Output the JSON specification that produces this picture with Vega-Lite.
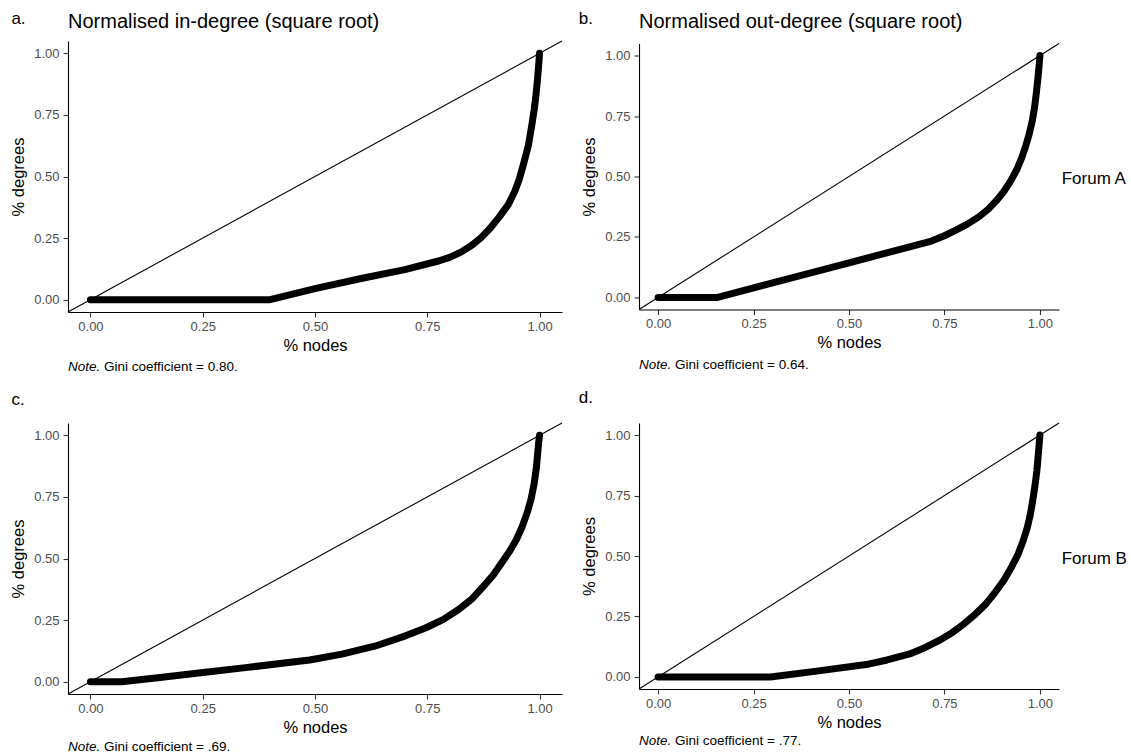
{
  "$schema": "https://vega.github.io/schema/vega-lite/v6.json",
  "padding": {"left": 10, "top": 10, "right": 4, "bottom": 0},
  "background": "white",
  "config": {
    "view": {"stroke": null},
    "font": "Liberation Sans",
    "axis": {
      "grid": false,
      "domainColor": "#000000",
      "domainWidth": 1.1,
      "tickColor": "#333333",
      "tickWidth": 1.1,
      "tickSize": 5,
      "labelFont": "Liberation Sans",
      "labelFontSize": 13,
      "labelColor": "#4d4d4d",
      "labelPadding": 4,
      "titleFont": "Liberation Sans",
      "titleFontSize": 16.5,
      "titleFontWeight": "normal",
      "titleColor": "#000000"
    },
    "axisX": {"labelPadding": 3, "titlePadding": 4},
    "axisY": {"titlePadding": 7},
    "text": {"font": "Liberation Sans", "color": "#000000"}
  },
  "datasets": {
    "diag": [{"x": -0.05, "y": -0.05}, {"x": 1.05, "y": 1.05}],
    "curves": [
      {"panel": "a", "x": 0, "y": 0},
      {"panel": "a", "x": 0.40, "y": 0},
      {"panel": "a", "x": 0.50, "y": 0.045},
      {"panel": "a", "x": 0.60, "y": 0.085},
      {"panel": "a", "x": 0.70, "y": 0.122},
      {"panel": "a", "x": 0.775, "y": 0.157},
      {"panel": "a", "x": 0.80, "y": 0.172},
      {"panel": "a", "x": 0.825, "y": 0.193},
      {"panel": "a", "x": 0.85, "y": 0.222},
      {"panel": "a", "x": 0.87, "y": 0.252},
      {"panel": "a", "x": 0.89, "y": 0.29},
      {"panel": "a", "x": 0.91, "y": 0.335},
      {"panel": "a", "x": 0.93, "y": 0.385},
      {"panel": "a", "x": 0.945, "y": 0.44},
      {"panel": "a", "x": 0.955, "y": 0.49},
      {"panel": "a", "x": 0.965, "y": 0.555},
      {"panel": "a", "x": 0.975, "y": 0.625},
      {"panel": "a", "x": 0.982, "y": 0.70},
      {"panel": "a", "x": 0.988, "y": 0.77},
      {"panel": "a", "x": 0.992, "y": 0.83},
      {"panel": "a", "x": 0.995, "y": 0.885},
      {"panel": "a", "x": 0.998, "y": 0.95},
      {"panel": "a", "x": 1, "y": 1},
      {"panel": "b", "x": 0, "y": 0},
      {"panel": "b", "x": 0.156, "y": 0},
      {"panel": "b", "x": 0.30, "y": 0.06},
      {"panel": "b", "x": 0.50, "y": 0.143},
      {"panel": "b", "x": 0.716, "y": 0.233},
      {"panel": "b", "x": 0.75, "y": 0.255},
      {"panel": "b", "x": 0.78, "y": 0.278},
      {"panel": "b", "x": 0.81, "y": 0.303},
      {"panel": "b", "x": 0.84, "y": 0.333},
      {"panel": "b", "x": 0.865, "y": 0.365},
      {"panel": "b", "x": 0.886, "y": 0.40},
      {"panel": "b", "x": 0.905, "y": 0.437},
      {"panel": "b", "x": 0.924, "y": 0.483},
      {"panel": "b", "x": 0.94, "y": 0.53},
      {"panel": "b", "x": 0.953, "y": 0.58},
      {"panel": "b", "x": 0.963, "y": 0.627},
      {"panel": "b", "x": 0.972, "y": 0.676},
      {"panel": "b", "x": 0.98, "y": 0.73},
      {"panel": "b", "x": 0.986, "y": 0.786},
      {"panel": "b", "x": 0.991, "y": 0.85},
      {"panel": "b", "x": 0.995, "y": 0.91},
      {"panel": "b", "x": 0.998, "y": 0.96},
      {"panel": "b", "x": 1, "y": 1},
      {"panel": "c", "x": 0, "y": 0},
      {"panel": "c", "x": 0.069, "y": 0},
      {"panel": "c", "x": 0.15, "y": 0.016},
      {"panel": "c", "x": 0.246, "y": 0.036},
      {"panel": "c", "x": 0.35, "y": 0.058},
      {"panel": "c", "x": 0.488, "y": 0.088},
      {"panel": "c", "x": 0.56, "y": 0.112},
      {"panel": "c", "x": 0.633, "y": 0.144},
      {"panel": "c", "x": 0.70, "y": 0.185},
      {"panel": "c", "x": 0.746, "y": 0.218},
      {"panel": "c", "x": 0.785, "y": 0.252},
      {"panel": "c", "x": 0.819, "y": 0.292},
      {"panel": "c", "x": 0.85, "y": 0.337},
      {"panel": "c", "x": 0.875, "y": 0.387},
      {"panel": "c", "x": 0.897, "y": 0.433},
      {"panel": "c", "x": 0.915, "y": 0.481},
      {"panel": "c", "x": 0.933, "y": 0.528},
      {"panel": "c", "x": 0.948, "y": 0.575},
      {"panel": "c", "x": 0.961, "y": 0.628},
      {"panel": "c", "x": 0.972, "y": 0.683},
      {"panel": "c", "x": 0.981, "y": 0.74},
      {"panel": "c", "x": 0.988, "y": 0.804},
      {"panel": "c", "x": 0.993, "y": 0.87},
      {"panel": "c", "x": 0.996, "y": 0.93},
      {"panel": "c", "x": 0.998, "y": 0.97},
      {"panel": "c", "x": 1, "y": 1},
      {"panel": "d", "x": 0, "y": 0},
      {"panel": "d", "x": 0.294, "y": 0},
      {"panel": "d", "x": 0.42, "y": 0.025},
      {"panel": "d", "x": 0.545, "y": 0.051},
      {"panel": "d", "x": 0.60, "y": 0.07},
      {"panel": "d", "x": 0.659, "y": 0.095},
      {"panel": "d", "x": 0.70, "y": 0.122},
      {"panel": "d", "x": 0.735, "y": 0.15},
      {"panel": "d", "x": 0.77, "y": 0.183},
      {"panel": "d", "x": 0.801, "y": 0.219},
      {"panel": "d", "x": 0.83, "y": 0.258},
      {"panel": "d", "x": 0.858, "y": 0.301},
      {"panel": "d", "x": 0.882, "y": 0.348},
      {"panel": "d", "x": 0.905, "y": 0.398},
      {"panel": "d", "x": 0.925, "y": 0.452},
      {"panel": "d", "x": 0.943, "y": 0.508},
      {"panel": "d", "x": 0.956, "y": 0.562},
      {"panel": "d", "x": 0.967, "y": 0.618},
      {"panel": "d", "x": 0.975, "y": 0.672},
      {"panel": "d", "x": 0.981, "y": 0.728},
      {"panel": "d", "x": 0.987, "y": 0.79},
      {"panel": "d", "x": 0.992, "y": 0.851},
      {"panel": "d", "x": 0.995, "y": 0.905},
      {"panel": "d", "x": 0.998, "y": 0.961},
      {"panel": "d", "x": 1, "y": 1}
    ]
  },
  "columns": 2,
  "spacing": {"row": 111, "column": 77},
  "bounds": "flush",
  "align": "each",
  "center": true,
  "concat": [
    {
      "width": 494,
      "height": 271,
      "layer": [
        {
          "data": {"name": "diag"},
          "mark": {"type": "line", "color": "#000000", "strokeWidth": 1.1},
          "encoding": {
            "x": {"field": "x", "type": "quantitative", "title": "% nodes", "scale": {"domain": [-0.05, 1.05], "nice": false, "zero": false}, "axis": {"values": [0, 0.25, 0.5, 0.75, 1], "format": ".2f", "labelFlush": false}},
            "y": {"field": "y", "type": "quantitative", "title": "% degrees", "scale": {"domain": [-0.05, 1.05], "nice": false, "zero": false}, "axis": {"values": [0, 0.25, 0.5, 0.75, 1], "format": ".2f", "labelFlush": false}}
          }
        },
        {
          "data": {"name": "curves"},
          "transform": [{"filter": "datum.panel === 'a'"}],
          "mark": {"type": "line", "color": "#000000", "strokeWidth": 7, "strokeCap": "round", "strokeJoin": "round", "interpolate": "linear"},
          "encoding": {
            "x": {"field": "x", "type": "quantitative"},
            "y": {"field": "y", "type": "quantitative"}
          }
        },
        {
          "data": {"values": [{"t": "a."}]},
          "mark": {"type": "text", "align": "left", "baseline": "alphabetic", "fontSize": 17},
          "encoding": {"text": {"field": "t"}, "x": {"datum": -0.176, "type": "quantitative"}, "y": {"datum": 1.119, "type": "quantitative"}}
        },
        {
          "data": {"values": [{"t": "Normalised in-degree (square root)"}]},
          "mark": {"type": "text", "align": "left", "baseline": "alphabetic", "fontSize": 20},
          "encoding": {"text": {"field": "t"}, "x": {"datum": -0.05, "type": "quantitative"}, "y": {"datum": 1.103, "type": "quantitative"}}
        },
        {
          "data": {"values": [{"t": "Note."}]},
          "mark": {"type": "text", "align": "left", "baseline": "alphabetic", "fontSize": 13.5, "fontStyle": "italic"},
          "encoding": {"text": {"field": "t"}, "x": {"datum": -0.05, "type": "quantitative"}, "y": {"datum": -0.289, "type": "quantitative"}}
        },
        {
          "data": {"values": [{"t": "Gini coefficient = 0.80."}]},
          "mark": {"type": "text", "align": "left", "baseline": "alphabetic", "fontSize": 13.5, "dx": 36},
          "encoding": {"text": {"field": "t"}, "x": {"datum": -0.05, "type": "quantitative"}, "y": {"datum": -0.289, "type": "quantitative"}}
        }
      ]
    },
    {
      "width": 420,
      "height": 266,
      "layer": [
        {
          "data": {"name": "diag"},
          "mark": {"type": "line", "color": "#000000", "strokeWidth": 1.1},
          "encoding": {
            "x": {"field": "x", "type": "quantitative", "title": "% nodes", "scale": {"domain": [-0.05, 1.05], "nice": false, "zero": false}, "axis": {"values": [0, 0.25, 0.5, 0.75, 1], "format": ".2f", "labelFlush": false}},
            "y": {"field": "y", "type": "quantitative", "title": "% degrees", "scale": {"domain": [-0.05, 1.05], "nice": false, "zero": false}, "axis": {"values": [0, 0.25, 0.5, 0.75, 1], "format": ".2f", "labelFlush": false}}
          }
        },
        {
          "data": {"name": "curves"},
          "transform": [{"filter": "datum.panel === 'b'"}],
          "mark": {"type": "line", "color": "#000000", "strokeWidth": 7, "strokeCap": "round", "strokeJoin": "round", "interpolate": "linear"},
          "encoding": {
            "x": {"field": "x", "type": "quantitative"},
            "y": {"field": "y", "type": "quantitative"}
          }
        },
        {
          "data": {"values": [{"t": "b."}]},
          "mark": {"type": "text", "align": "left", "baseline": "alphabetic", "fontSize": 17},
          "encoding": {"text": {"field": "t"}, "x": {"datum": -0.208, "type": "quantitative"}, "y": {"datum": 1.13, "type": "quantitative"}}
        },
        {
          "data": {"values": [{"t": "Normalised out-degree (square root)"}]},
          "mark": {"type": "text", "align": "left", "baseline": "alphabetic", "fontSize": 20},
          "encoding": {"text": {"field": "t"}, "x": {"datum": -0.05, "type": "quantitative"}, "y": {"datum": 1.113, "type": "quantitative"}}
        },
        {
          "data": {"values": [{"t": "Note."}]},
          "mark": {"type": "text", "align": "left", "baseline": "alphabetic", "fontSize": 13.5, "fontStyle": "italic"},
          "encoding": {"text": {"field": "t"}, "x": {"datum": -0.05, "type": "quantitative"}, "y": {"datum": -0.294, "type": "quantitative"}}
        },
        {
          "data": {"values": [{"t": "Gini coefficient = 0.64."}]},
          "mark": {"type": "text", "align": "left", "baseline": "alphabetic", "fontSize": 13.5, "dx": 36},
          "encoding": {"text": {"field": "t"}, "x": {"datum": -0.05, "type": "quantitative"}, "y": {"datum": -0.294, "type": "quantitative"}}
        },
        {
          "data": {"values": [{"t": "Forum A"}]},
          "mark": {"type": "text", "align": "left", "baseline": "alphabetic", "fontSize": 17},
          "encoding": {"text": {"field": "t"}, "x": {"datum": 1.057, "type": "quantitative"}, "y": {"datum": 0.471, "type": "quantitative"}}
        }
      ]
    },
    {
      "width": 494,
      "height": 271,
      "layer": [
        {
          "data": {"name": "diag"},
          "mark": {"type": "line", "color": "#000000", "strokeWidth": 1.1},
          "encoding": {
            "x": {"field": "x", "type": "quantitative", "title": "% nodes", "scale": {"domain": [-0.05, 1.05], "nice": false, "zero": false}, "axis": {"values": [0, 0.25, 0.5, 0.75, 1], "format": ".2f", "labelFlush": false}},
            "y": {"field": "y", "type": "quantitative", "title": "% degrees", "scale": {"domain": [-0.05, 1.05], "nice": false, "zero": false}, "axis": {"values": [0, 0.25, 0.5, 0.75, 1], "format": ".2f", "labelFlush": false}}
          }
        },
        {
          "data": {"name": "curves"},
          "transform": [{"filter": "datum.panel === 'c'"}],
          "mark": {"type": "line", "color": "#000000", "strokeWidth": 7, "strokeCap": "round", "strokeJoin": "round", "interpolate": "linear"},
          "encoding": {
            "x": {"field": "x", "type": "quantitative"},
            "y": {"field": "y", "type": "quantitative"}
          }
        },
        {
          "data": {"values": [{"t": "c."}]},
          "mark": {"type": "text", "align": "left", "baseline": "alphabetic", "fontSize": 17},
          "encoding": {"text": {"field": "t"}, "x": {"datum": -0.176, "type": "quantitative"}, "y": {"datum": 1.124, "type": "quantitative"}}
        },
        {
          "data": {"values": [{"t": "Note."}]},
          "mark": {"type": "text", "align": "left", "baseline": "alphabetic", "fontSize": 13.5, "fontStyle": "italic"},
          "encoding": {"text": {"field": "t"}, "x": {"datum": -0.05, "type": "quantitative"}, "y": {"datum": -0.28, "type": "quantitative"}}
        },
        {
          "data": {"values": [{"t": "Gini coefficient = .69."}]},
          "mark": {"type": "text", "align": "left", "baseline": "alphabetic", "fontSize": 13.5, "dx": 36},
          "encoding": {"text": {"field": "t"}, "x": {"datum": -0.05, "type": "quantitative"}, "y": {"datum": -0.28, "type": "quantitative"}}
        }
      ]
    },
    {
      "width": 420,
      "height": 266,
      "layer": [
        {
          "data": {"name": "diag"},
          "mark": {"type": "line", "color": "#000000", "strokeWidth": 1.1},
          "encoding": {
            "x": {"field": "x", "type": "quantitative", "title": "% nodes", "scale": {"domain": [-0.05, 1.05], "nice": false, "zero": false}, "axis": {"values": [0, 0.25, 0.5, 0.75, 1], "format": ".2f", "labelFlush": false}},
            "y": {"field": "y", "type": "quantitative", "title": "% degrees", "scale": {"domain": [-0.05, 1.05], "nice": false, "zero": false}, "axis": {"values": [0, 0.25, 0.5, 0.75, 1], "format": ".2f", "labelFlush": false}}
          }
        },
        {
          "data": {"name": "curves"},
          "transform": [{"filter": "datum.panel === 'd'"}],
          "mark": {"type": "line", "color": "#000000", "strokeWidth": 7, "strokeCap": "round", "strokeJoin": "round", "interpolate": "linear"},
          "encoding": {
            "x": {"field": "x", "type": "quantitative"},
            "y": {"field": "y", "type": "quantitative"}
          }
        },
        {
          "data": {"values": [{"t": "d."}]},
          "mark": {"type": "text", "align": "left", "baseline": "alphabetic", "fontSize": 17},
          "encoding": {"text": {"field": "t"}, "x": {"datum": -0.208, "type": "quantitative"}, "y": {"datum": 1.131, "type": "quantitative"}}
        },
        {
          "data": {"values": [{"t": "Note."}]},
          "mark": {"type": "text", "align": "left", "baseline": "alphabetic", "fontSize": 13.5, "fontStyle": "italic"},
          "encoding": {"text": {"field": "t"}, "x": {"datum": -0.05, "type": "quantitative"}, "y": {"datum": -0.283, "type": "quantitative"}}
        },
        {
          "data": {"values": [{"t": "Gini coefficient = .77."}]},
          "mark": {"type": "text", "align": "left", "baseline": "alphabetic", "fontSize": 13.5, "dx": 36},
          "encoding": {"text": {"field": "t"}, "x": {"datum": -0.05, "type": "quantitative"}, "y": {"datum": -0.283, "type": "quantitative"}}
        },
        {
          "data": {"values": [{"t": "Forum B"}]},
          "mark": {"type": "text", "align": "left", "baseline": "alphabetic", "fontSize": 17},
          "encoding": {"text": {"field": "t"}, "x": {"datum": 1.057, "type": "quantitative"}, "y": {"datum": 0.467, "type": "quantitative"}}
        }
      ]
    }
  ]
}
